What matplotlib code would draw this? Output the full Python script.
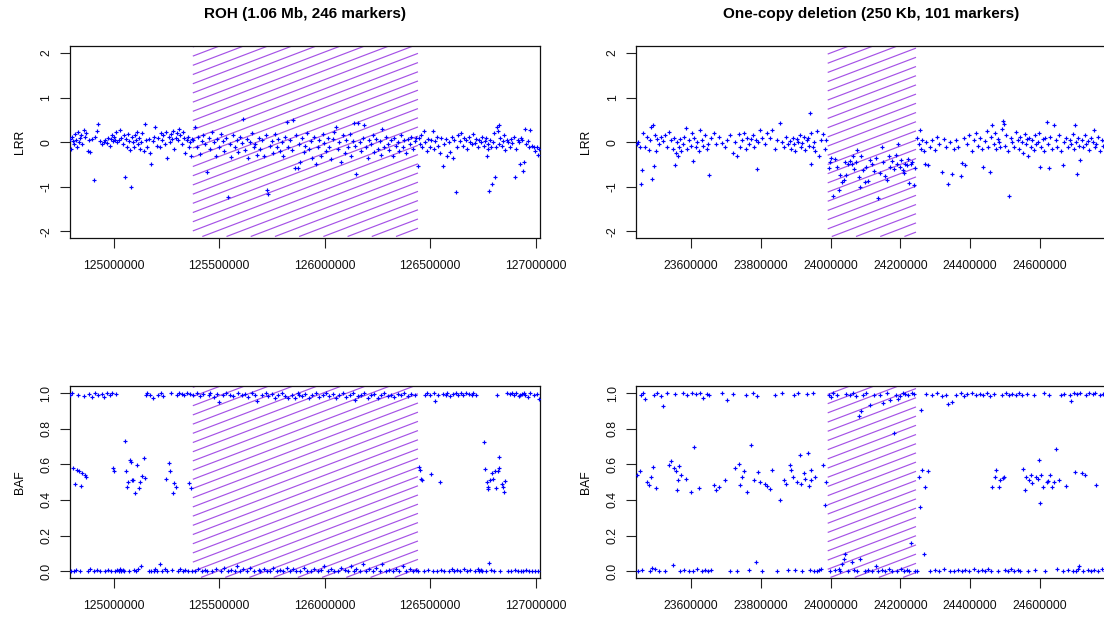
import matplotlib
matplotlib.use("Agg")
import matplotlib.pyplot as plt
import numpy as np

plt.rcParams['font.family'] = ['Liberation Sans', 'DejaVu Sans']
plt.rcParams['axes.unicode_minus'] = False

# ---------------- data ----------------
titles = ["ROH (1.06 Mb, 246 markers)", "One-copy deletion (250 Kb, 101 markers)"]

roh_region = (125375000, 126442000)
del_region = (23991500, 24244700)

roh_xticks = [125000000, 125500000, 126000000, 126500000, 127000000]
del_xticks = [23600000, 23800000, 24000000, 24200000, 24400000, 24600000]
lrr_ticks = [-2, -1, 0, 1, 2]
baf_ticks = [0.0, 0.2, 0.4, 0.6, 0.8, 1.0]

# ROH panel markers (positions in Mb)
roh_pos_mb = [
    124.792, 124.798, 124.803, 124.808, 124.812, 124.816, 124.820, 124.825, 124.830, 124.834,
    124.838, 124.845, 124.852, 124.858, 124.864, 124.870, 124.876, 124.883, 124.890, 124.897,
    124.905, 124.912, 124.920, 124.927, 124.935, 124.943, 124.952, 124.960, 124.968, 124.975,
    124.982, 124.988, 124.993, 124.998, 125.003, 125.008, 125.013, 125.018,
    125.024, 125.030, 125.036, 125.042, 125.048, 125.054, 125.058, 125.062, 125.067, 125.072,
    125.076, 125.080, 125.085, 125.090, 125.095, 125.100, 125.105, 125.110, 125.115, 125.120,
    125.125, 125.130, 125.136, 125.142, 125.147, 125.153, 125.160, 125.166, 125.172, 125.178,
    125.185, 125.192, 125.198, 125.205,
    125.212, 125.218, 125.224, 125.230, 125.236, 125.242, 125.249, 125.255, 125.260, 125.265,
    125.270, 125.276, 125.282, 125.288, 125.293, 125.298, 125.304, 125.310, 125.316, 125.322,
    125.328, 125.334, 125.340, 125.346, 125.352, 125.357, 125.362, 125.367, 125.372,
    125.378, 125.386, 125.393, 125.401, 125.410, 125.418, 125.425, 125.433, 125.443, 125.450,
    125.458, 125.466, 125.475, 125.483, 125.490, 125.500, 125.508, 125.516, 125.525, 125.533,
    125.542, 125.550, 125.558, 125.566, 125.575, 125.583, 125.590, 125.600, 125.607, 125.613,
    125.622, 125.630, 125.638, 125.647, 125.655, 125.663, 125.670, 125.680, 125.688, 125.695,
    125.704, 125.712, 125.720, 125.728, 125.732, 125.740, 125.748, 125.756, 125.764, 125.772,
    125.780, 125.788, 125.796, 125.804, 125.812, 125.821, 125.828, 125.836, 125.845, 125.850,
    125.858, 125.865, 125.872, 125.878, 125.884, 125.892, 125.900, 125.908, 125.916, 125.925,
    125.933, 125.941, 125.950, 125.958, 125.966, 125.975, 125.983, 125.990, 125.998, 126.006,
    126.014, 126.022, 126.030, 126.038, 126.046, 126.053, 126.061, 126.070, 126.078, 126.086,
    126.094, 126.102, 126.110, 126.118, 126.126, 126.133, 126.137, 126.144, 126.149, 126.159,
    126.166, 126.174, 126.181, 126.188, 126.196, 126.204, 126.212, 126.220, 126.228, 126.236,
    126.244, 126.252, 126.260, 126.268, 126.273, 126.282, 126.290, 126.298, 126.306, 126.314,
    126.322, 126.330, 126.338, 126.346, 126.354, 126.362, 126.370, 126.378, 126.386, 126.394,
    126.402, 126.410, 126.418, 126.426, 126.434, 126.442,
    126.447, 126.452, 126.457, 126.463, 126.470, 126.477, 126.484, 126.490, 126.497, 126.505,
    126.512, 126.518, 126.523, 126.530, 126.537, 126.547, 126.553, 126.560, 126.566, 126.573,
    126.580, 126.587, 126.594, 126.601, 126.608, 126.615, 126.620, 126.627, 126.634, 126.641,
    126.648, 126.655, 126.662, 126.669, 126.676, 126.683, 126.690, 126.697, 126.704, 126.711,
    126.718, 126.725, 126.732, 126.739, 126.746, 126.755, 126.759, 126.763, 126.767, 126.772,
    126.776, 126.781, 126.785, 126.790, 126.795, 126.798, 126.803, 126.807, 126.811, 126.816,
    126.820, 126.825, 126.828, 126.833, 126.838, 126.843, 126.848, 126.855, 126.862, 126.869,
    126.876, 126.883, 126.890, 126.897, 126.900, 126.907, 126.914, 126.920, 126.924, 126.930,
    126.936, 126.941, 126.945, 126.950, 126.956, 126.962, 126.968, 126.975, 126.982, 126.990,
    126.997, 127.004, 127.009, 127.015,
]
roh_lrr = [
    0.08, -0.15, 0.12, 0.02, -0.05, 0.18, 0.05, -0.10, 0.22, 0.00,
    0.10, 0.15, -0.05, 0.27, 0.12, 0.20, -0.20, 0.05, -0.22, 0.08,
    -0.84, 0.12, 0.25, 0.40, 0.02, -0.05, 0.00, 0.05, -0.02, 0.10,
    -0.08, 0.08, 0.15, 0.03, 0.12, 0.05, 0.22, 0.00,
    0.05, 0.28, 0.10, -0.05, 0.15, -0.79, 0.08, -0.10, 0.18, 0.02,
    -0.18, -1.00, 0.12, 0.00, -0.12, 0.15, 0.05, 0.22, -0.05, 0.10,
    -0.15, 0.00, 0.20, -0.20, 0.40, 0.05, -0.12, 0.08, -0.25, -0.50,
    0.02, 0.12, 0.35, -0.08,
    0.10, -0.10, 0.20, 0.05, 0.15, -0.05, 0.22, -0.35, 0.12, 0.00,
    0.18, 0.08, 0.25, -0.15, 0.10, 0.20, 0.05, 0.30, 0.15, -0.05,
    0.22, 0.10, -0.25, 0.05, 0.12, -0.10, 0.00, -0.30, 0.08,
    0.05, 0.35, -0.10, 0.12, -0.26, 0.02, 0.15, -0.05, -0.67, 0.10,
    -0.15, 0.22, 0.00, -0.30, 0.08, -0.12, 0.18, 0.03, -0.20, 0.10,
    -1.23, -0.05, -0.33, 0.15, -0.10, 0.05, -0.22, 0.12, -0.02, 0.51,
    -0.18, 0.08, -0.35, 0.00, 0.20, -0.12, -0.05, -0.28, 0.10, -0.15,
    0.05, -0.30, 0.15, -1.08, -1.16, -0.08, 0.02, -0.25, 0.18, -0.12,
    0.08, -0.20, 0.00, -0.32, 0.12, 0.46, -0.10, 0.05, -0.18, 0.50,
    -0.59, 0.15, -0.57, -0.05, -0.44, 0.10, -0.22, -0.08, 0.20, -0.15,
    0.02, -0.35, 0.12, -0.48, -0.10, 0.05, -0.30, 0.18, -0.02, -0.20,
    0.10, -0.12, -0.38, 0.08, 0.22, 0.35, -0.15, 0.00, -0.44, 0.15,
    -0.25, 0.05, -0.10, 0.18, -0.30, 0.02, 0.44, -0.08, -0.72, 0.42,
    0.00, -0.20, 0.10, 0.38, -0.12, -0.35, 0.05, -0.05, 0.15, -0.22,
    0.08, -0.15, 0.02, -0.28, 0.30, -0.10, 0.12, -0.05, -0.18, 0.05,
    -0.32, 0.10, -0.08, 0.00, -0.20, 0.15, -0.12, 0.05, -0.25, 0.08,
    -0.05, 0.12, -0.15, 0.02, 0.10, -0.53,
    0.10, -0.05, 0.15, -0.12, 0.25, 0.00, -0.20, 0.08, -0.10, 0.05,
    0.26, -0.15, 0.02, 0.12, -0.08, -0.25, 0.10, -0.54, -0.05, 0.08,
    -0.30, 0.00, -0.22, 0.12, -0.35, 0.05, -1.11, -0.10, 0.15, 0.02,
    0.20, -0.08, 0.10, 0.05, -0.15, 0.12, 0.00, -0.05, 0.18, -0.02,
    0.08, -0.12, 0.05, 0.00, 0.12, -0.08, 0.02, 0.10, -0.30, -0.05,
    -0.15, -1.09, 0.05, -0.10, -0.95, 0.00, 0.20, -0.78, -0.12, 0.35,
    0.25, -0.05, 0.38, 0.10, -0.08, 0.02, 0.15, -0.18, 0.05, 0.00,
    -0.10, 0.08, -0.02, 0.12, -0.78, -0.15, 0.05, 0.00, -0.48, 0.10,
    0.05, -0.65, -0.44, 0.30, -0.05, 0.02, -0.10, 0.27, -0.08, -0.12,
    -0.20, -0.10, -0.29, -0.15,
]
roh_baf = [
    0.99, 0.00, 1.00, 0.58, 0.00, 0.49, 0.005, 0.57, 0.99, 0.56,
    0.00, 0.48, 0.55, 0.985, 0.54, 0.53, 0.00, 0.995, 0.01, 0.98,
    0.00, 1.00, 0.005, 0.99, 0.00, 0.995, 0.98, 0.00, 1.00, 0.005,
    0.99, 0.00, 1.00, 0.578, 0.56, 0.00, 0.995, 0.005,
    0.00, 0.01, 0.00, 0.005, 0.00, 0.73, 0.565, 0.475, 0.50, 0.00,
    0.625, 0.615, 0.51, 0.51, 0.005, 0.44, 0.00, 0.595, 0.01, 0.465,
    0.50, 0.03, 0.535, 0.635, 0.525, 0.99, 1.00, 0.00, 0.99, 0.00,
    0.97, 0.00, 0.01, 0.00,
    0.99, 0.043, 1.00, 0.00, 0.985, 0.01, 0.52, 0.00, 0.606, 0.56,
    1.00, 0.005, 0.44, 0.497, 0.475, 0.99, 0.00, 1.00, 0.01, 0.995,
    0.00, 0.99, 0.005, 1.00, 0.00, 0.493, 0.995, 0.469, 0.00,
    0.99, 0.00, 1.00, 0.01, 0.985, 0.00, 0.995, 0.005, 0.00, 0.99,
    1.00, 0.00, 0.98, 0.01, 0.995, 0.95, 0.00, 0.99, 0.02, 1.00,
    0.00, 0.99, 0.005, 0.985, 0.00, 0.03, 1.00, 0.00, 0.99, 0.01,
    0.995, 0.00, 0.98, 0.02, 1.00, 0.00, 0.99, 0.953, 0.005, 0.00,
    0.99, 0.01, 1.00, 0.00, 0.985, 0.00, 0.995, 0.02, 0.97, 0.00,
    0.99, 0.005, 1.00, 0.00, 0.985, 0.02, 0.97, 0.00, 0.99, 0.01,
    0.975, 0.00, 1.00, 0.99, 0.00, 0.985, 0.02, 0.995, 0.00, 0.97,
    0.00, 0.99, 0.01, 1.00, 0.00, 0.98, 0.005, 0.99, 0.03, 1.00,
    0.00, 0.985, 0.01, 0.995, 0.00, 0.97, 0.00, 0.99, 0.02, 1.00,
    0.005, 0.98, 0.00, 0.99, 0.03, 1.00, 0.00, 0.96, 0.01, 0.985,
    0.00, 0.99, 0.04, 1.00, 0.00, 0.975, 0.01, 0.99, 0.00, 0.995,
    0.02, 0.97, 0.00, 0.99, 0.04, 1.00, 0.00, 0.985, 0.005, 0.99,
    0.00, 0.98, 0.01, 0.995, 0.00, 0.99, 0.03, 1.00, 0.00, 0.985,
    0.01, 0.995, 0.00, 0.99, 0.005, 0.00,
    0.587, 0.568, 0.52, 0.51, 0.00, 0.99, 1.00, 0.005, 0.99, 0.544,
    0.00, 1.00, 0.953, 0.00, 0.99, 0.503, 0.005, 0.995, 0.00, 0.99,
    1.00, 0.00, 0.985, 0.01, 0.995, 0.00, 1.00, 0.005, 0.99, 0.00,
    1.00, 0.99, 0.01, 1.00, 0.00, 0.995, 0.005, 0.99, 1.00, 0.00,
    0.99, 0.01, 0.00, 0.005, 0.00, 0.724, 0.574, 0.00, 0.503, 0.475,
    0.46, 0.047, 0.512, 0.005, 0.55, 0.52, 0.00, 0.56, 0.465, 0.99,
    0.563, 0.64, 0.578, 0.00, 0.488, 0.475, 0.447, 0.507, 1.00, 0.00,
    0.995, 0.00, 1.00, 0.99, 0.005, 1.00, 0.00, 0.985, 0.99, 0.00,
    0.995, 0.00, 1.00, 0.99, 0.005, 0.98, 0.00, 1.00, 0.00, 0.99,
    0.00, 0.995, 0.00, 0.965,
]

# Deletion panel markers (positions in Mb)
del_pos_mb = [
    23.444, 23.448, 23.452, 23.456, 23.459, 23.463, 23.468, 23.473, 23.478, 23.483,
    23.486, 23.488, 23.490, 23.492, 23.495, 23.498, 23.503, 23.508, 23.514, 23.520,
    23.526, 23.532, 23.537, 23.542, 23.547, 23.551, 23.553, 23.556, 23.559, 23.562,
    23.565, 23.568, 23.572, 23.576, 23.580, 23.584, 23.589, 23.594, 23.598, 23.602,
    23.605, 23.609, 23.613, 23.618, 23.622, 23.625, 23.630, 23.635, 23.640, 23.645,
    23.649, 23.652, 23.658, 23.665, 23.672, 23.680, 23.688, 23.696, 23.704, 23.712,
    23.720, 23.726, 23.731, 23.736, 23.741, 23.746, 23.751, 23.756, 23.761, 23.766,
    23.771, 23.776, 23.781, 23.785, 23.788, 23.793, 23.798, 23.804, 23.811, 23.818,
    23.825, 23.832, 23.840, 23.847, 23.854, 23.860, 23.866, 23.872, 23.878, 23.883,
    23.887, 23.891, 23.895, 23.899, 23.903, 23.907, 23.911, 23.915, 23.919, 23.923,
    23.927, 23.931, 23.935, 23.938, 23.940, 23.943, 23.945, 23.948, 23.952, 23.956,
    23.961, 23.966, 23.972, 23.978, 23.983, 23.988,
    23.994, 23.998, 24.002, 24.007, 24.012, 24.018, 24.023, 24.028, 24.033, 24.037,
    24.041, 24.045, 24.050, 24.055, 24.060, 24.064, 24.068, 24.072, 24.076, 24.080,
    24.084, 24.088, 24.092, 24.097, 24.102, 24.107, 24.112, 24.118, 24.124, 24.130,
    24.136, 24.141, 24.146, 24.151, 24.156, 24.161, 24.166, 24.171, 24.176, 24.181,
    24.186, 24.190, 24.194, 24.198, 24.202, 24.206, 24.210, 24.214, 24.218, 24.222,
    24.226, 24.230, 24.234, 24.238, 24.242,
    24.248, 24.252, 24.255, 24.259, 24.263, 24.267, 24.270, 24.274, 24.280, 24.286,
    24.292, 24.298, 24.305, 24.312, 24.318, 24.324, 24.330, 24.336, 24.342, 24.348,
    24.354, 24.360, 24.366, 24.373, 24.376, 24.381, 24.386, 24.392, 24.398, 24.404,
    24.410, 24.416, 24.422, 24.428, 24.434, 24.438, 24.443, 24.448, 24.452, 24.456,
    24.460, 24.463, 24.467, 24.471, 24.475, 24.479, 24.483, 24.487, 24.490, 24.493,
    24.496, 24.500, 24.504, 24.508, 24.512, 24.516, 24.521, 24.526, 24.531, 24.536,
    24.540, 24.544, 24.548, 24.552, 24.556, 24.559, 24.562, 24.566, 24.570, 24.574,
    24.578, 24.582, 24.586, 24.590, 24.594, 24.597, 24.600, 24.604, 24.608, 24.612,
    24.616, 24.619, 24.623, 24.626, 24.630, 24.635, 24.640, 24.645, 24.650, 24.656,
    24.661, 24.665, 24.670, 24.676, 24.682, 24.686, 24.690, 24.694, 24.697, 24.700,
    24.703, 24.706, 24.709, 24.712, 24.716, 24.720, 24.724, 24.728, 24.732, 24.737,
    24.742, 24.747, 24.751, 24.754, 24.758, 24.762, 24.767, 24.772, 24.777, 24.782,
    24.787, 24.792,
]
del_lrr = [
    -0.05, 0.00, -0.12, -0.95, -0.63, 0.20, -0.10, 0.12, -0.18, 0.05,
    0.35, -0.82, 0.38, -0.54, 0.15, -0.20, 0.08, -0.05, 0.12, 0.02,
    0.15, -0.10, 0.22, 0.05, -0.15, 0.10, -0.52, -0.25, 0.00, -0.30,
    -0.10, 0.08, -0.20, -0.05, 0.12, 0.31, -0.15, 0.05, -0.08, 0.20,
    -0.43, 0.10, -0.12, 0.00, -0.20, 0.28, 0.05, -0.08, 0.15, -0.15,
    -0.05, -0.74, 0.10, 0.20, -0.05, 0.12, -0.02, -0.10, 0.05, 0.15,
    -0.25, 0.00, -0.30, 0.18, -0.10, 0.05, 0.20, -0.15, 0.10, -0.05,
    0.08, 0.15, -0.12, 0.05, -0.61, 0.00, 0.27, 0.10, -0.05, 0.20,
    0.10, 0.27, -0.15, 0.05, 0.44, 0.00, -0.10, 0.12, -0.05, 0.02,
    -0.15, 0.10, -0.05, -0.20, 0.08, 0.00, 0.15, -0.12, -0.02, 0.12,
    -0.18, 0.05, 0.10, -0.08, 0.66, 0.20, -0.48, -0.10, 0.00, -0.20,
    0.25, -0.30, 0.05, 0.18, -0.15, 0.05,
    -0.59, -0.44, -0.35, -1.22, -0.38, -0.55, -1.08, -0.73, -0.90, -0.84,
    -0.45, -0.73, -0.50, -0.42, -0.48, -0.30, -0.60, -0.45, -0.18, -0.78,
    -1.00, -0.32, -0.63, -0.90, -0.55, -0.87, -0.40, -0.50, -0.65, -0.35,
    -1.25, -0.70, -0.10, -0.45, -0.77, -0.86, -0.30, -0.55, -0.42, -0.60,
    -0.28, -0.50, -0.05, -0.55, -0.40, -0.62, -0.70, -0.48, -0.52, -0.38,
    -0.92, -0.50, -0.45, -0.97, -0.58,
    0.10, -0.05, 0.27, -0.15, 0.05, -0.20, -0.48, 0.00, -0.52, -0.10,
    0.05, -0.18, 0.12, -0.05, -0.67, 0.08, -0.10, -0.95, 0.00, -0.71,
    -0.15, 0.05, -0.10, -0.77, -0.47, 0.10, -0.52, -0.05, 0.15, -0.20,
    0.05, 0.20, -0.08, 0.10, -0.15, -0.56, 0.02, 0.25, -0.10, -0.67,
    0.12, 0.38, -0.05, 0.20, -0.15, 0.08, 0.00, -0.12, 0.30, 0.47,
    0.40, -0.08, 0.15, -0.20, -1.22, 0.10, 0.00, -0.10, 0.22, 0.05,
    -0.15, 0.12, 0.00, -0.25, 0.18, -0.05, 0.08, -0.30, 0.10, -0.12,
    0.05, -0.18, 0.15, -0.05, 0.00, 0.20, -0.56, -0.10, 0.08, -0.20,
    0.10, 0.46, -0.05, -0.58, 0.12, -0.15, 0.38, 0.05, -0.10, 0.15,
    -0.20, -0.51, 0.00, 0.10, -0.12, 0.05, -0.05, 0.18, -0.15, 0.38,
    0.00, -0.72, 0.10, -0.08, -0.39, 0.05, -0.12, 0.15, -0.05, 0.02,
    -0.18, 0.10, 0.00, 0.28, -0.10, -0.05, 0.12, -0.20, 0.05, -0.08,
    0.02, -0.10,
]
del_baf = [
    0.54, 0.00, 0.563, 0.99, 0.005, 1.00, 0.965, 0.503, 0.484, 0.00,
    0.53, 0.02, 0.583, 0.99, 0.01, 0.465, 1.00, 0.00, 0.985, 0.925,
    0.00, 1.00, 0.597, 0.619, 0.035, 0.578, 0.995, 0.56, 0.456, 0.51,
    0.593, 0.00, 0.54, 1.00, 0.005, 0.52, 0.99, 0.00, 0.447, 1.00,
    0.00, 0.696, 0.995, 0.01, 0.465, 1.00, 0.00, 0.97, 0.005, 0.995,
    0.00, 0.99, 0.005, 0.484, 0.456, 0.47, 1.00, 0.512, 0.96, 0.00,
    0.995, 0.578, 0.00, 0.60, 0.484, 0.53, 0.56, 0.99, 0.447, 0.005,
    0.709, 1.00, 0.512, 0.05, 0.985, 0.559, 0.503, 0.00, 0.49, 0.48,
    0.46, 0.568, 0.99, 0.00, 0.40, 1.00, 0.512, 0.49, 0.005, 0.597,
    0.57, 0.53, 0.99, 0.005, 0.50, 1.00, 0.653, 0.49, 0.00, 0.55,
    0.52, 0.995, 0.662, 0.48, 0.005, 0.57, 0.51, 1.00, 0.00, 0.53,
    0.00, 0.005, 0.01, 0.597, 0.371, 0.503,
    0.99, 0.00, 0.98, 1.00, 0.005, 0.99, 0.01, 0.00, 0.043, 0.071,
    0.094, 0.995, 0.00, 0.99, 0.053, 1.00, 0.005, 0.985, 0.00, 0.869,
    0.068, 0.897, 0.99, 0.00, 1.00, 0.005, 0.934, 0.00, 0.99, 0.028,
    0.00, 0.99, 0.005, 0.944, 0.00, 1.00, 0.01, 0.962, 0.00, 0.775,
    0.99, 0.00, 0.966, 0.985, 0.01, 1.00, 0.00, 0.995, 0.005, 0.99,
    0.00, 0.16, 1.00, 0.995, 0.00,
    0.00, 0.53, 0.362, 0.906, 0.568, 0.099, 0.475, 0.995, 0.563, 0.00,
    0.99, 0.005, 1.00, 0.00, 0.985, 0.01, 0.99, 0.938, 0.00, 0.95,
    0.00, 0.99, 0.005, 1.00, 0.00, 0.985, 0.005, 0.995, 0.00, 1.00,
    0.01, 0.99, 0.00, 0.995, 0.005, 0.99, 0.00, 1.00, 0.01, 0.985,
    0.00, 0.475, 0.995, 0.53, 0.568, 0.00, 0.475, 0.51, 0.99, 0.525,
    0.53, 0.005, 1.00, 0.00, 0.99, 0.01, 0.995, 0.00, 0.99, 0.005,
    1.00, 0.00, 0.99, 0.574, 0.456, 0.53, 0.995, 0.00, 0.51, 0.54,
    0.497, 0.99, 0.005, 0.53, 0.52, 0.625, 0.381, 0.54, 0.475, 1.00,
    0.00, 0.50, 0.505, 0.99, 0.54, 0.47, 0.50, 0.685, 0.01, 0.51,
    0.99, 0.00, 0.995, 0.48, 0.005, 0.99, 0.953, 0.00, 1.00, 0.559,
    0.00, 0.995, 0.01, 0.028, 1.00, 0.55, 0.00, 0.54, 0.99, 0.005,
    1.00, 0.00, 0.995, 0.005, 1.00, 0.484, 0.00, 0.99, 0.01, 0.995,
    0.00, 1.00,
]

assert len(roh_pos_mb) == len(roh_lrr) == len(roh_baf)
assert len(del_pos_mb) == len(del_lrr) == len(del_baf)

# ---------------- layout ----------------
W, H = 1104, 617
fig = plt.figure(figsize=(W / 100, H / 100), dpi=100)
fig.patch.set_facecolor('white')

PT_COL = '#0000ff'
HATCH_COL = '#a552e6'
FS = 8.8


def px_axes(x0, y0, x1, y1):
    return fig.add_axes([x0 / W, 1 - y1 / H, (x1 - x0) / W, (y1 - y0) / H])


def hatch(ax, x0, x1, y0, y1, slope=0.38, gap=9.2):
    T = ax.transData
    X0, Y0 = T.transform((x0, y0))
    X1, Y1 = T.transform((x1, y1))
    inv = T.inverted()
    cmin = Y0 - slope * X1
    cmax = Y1 - slope * X0
    c = cmin - (cmin % gap)
    while c <= cmax:
        xa = max(X0, (Y0 - c) / slope)
        xb = min(X1, (Y1 - c) / slope)
        if xb > xa:
            p = inv.transform([(xa, c + slope * xa), (xb, c + slope * xb)])
            ax.plot(p[:, 0], p[:, 1], color=HATCH_COL, lw=0.85, zorder=1,
                    solid_capstyle='butt')
        c += gap


def style(ax, xticks, yticks, ylabels):
    ax.set_xticks(xticks)
    ax.set_xticklabels([str(t) for t in xticks])
    ax.set_yticks(yticks)
    ax.set_yticklabels(ylabels)
    ax.tick_params(axis='both', direction='out', length=7, width=0.8,
                   color='#222222', labelsize=FS, labelcolor='#111111')
    ax.tick_params(axis='x', pad=8.5)
    ax.tick_params(axis='y', pad=5.5, labelrotation=90)
    for lbl in ax.get_yticklabels():
        lbl.set_va('center')
    for s in ax.spines.values():
        s.set_linewidth(0.9)
        s.set_color('#111111')


panels = [
    (69.7, 540.3, (124791500, 127021800), roh_region, roh_pos_mb, roh_lrr, roh_baf, roh_xticks, titles[0]),
    (636.0, 1106.6, (23441700, 24791300), del_region, del_pos_mb, del_lrr, del_baf, del_xticks, titles[1]),
]

for x0, x1, xlim, region, pos_mb, lrr, baf, xt, title in panels:
    pos = np.array(pos_mb) * 1e6
    # LRR
    ax = px_axes(x0, 46.0, x1, 238.3)
    ax.set_xlim(*xlim)
    ax.set_ylim(-2.16, 2.16)
    hatch(ax, region[0], region[1], -2.12, 2.3)
    ax.plot(pos, lrr, linestyle='none', marker='+', ms=3.1, mew=0.85, color=PT_COL, zorder=3)
    style(ax, xt, lrr_ticks, [str(t) for t in lrr_ticks])
    fig.text((x0 - 50) / W, 1 - 142 / H, 'LRR', rotation=90, ha='center', va='center', fontsize=FS)
    fig.text((x0 + 470.6 / 2) / W, 1 - 14 / H, title, ha='center', va='center',
             fontsize=11.0, fontweight='bold')
    # BAF
    ax = px_axes(x0, 386.0, x1, 578.3)
    ax.set_xlim(*xlim)
    ax.set_ylim(-0.04, 1.04)
    hatch(ax, region[0], region[1], -0.035, 1.1)
    ax.plot(pos, baf, linestyle='none', marker='+', ms=3.1, mew=0.85, color=PT_COL, zorder=3)
    style(ax, xt, baf_ticks, ['%.1f' % t for t in baf_ticks])
    fig.text((x0 - 50) / W, 1 - 482 / H, 'BAF', rotation=90, ha='center', va='center', fontsize=FS)

fig.savefig('out.png', dpi=100)
